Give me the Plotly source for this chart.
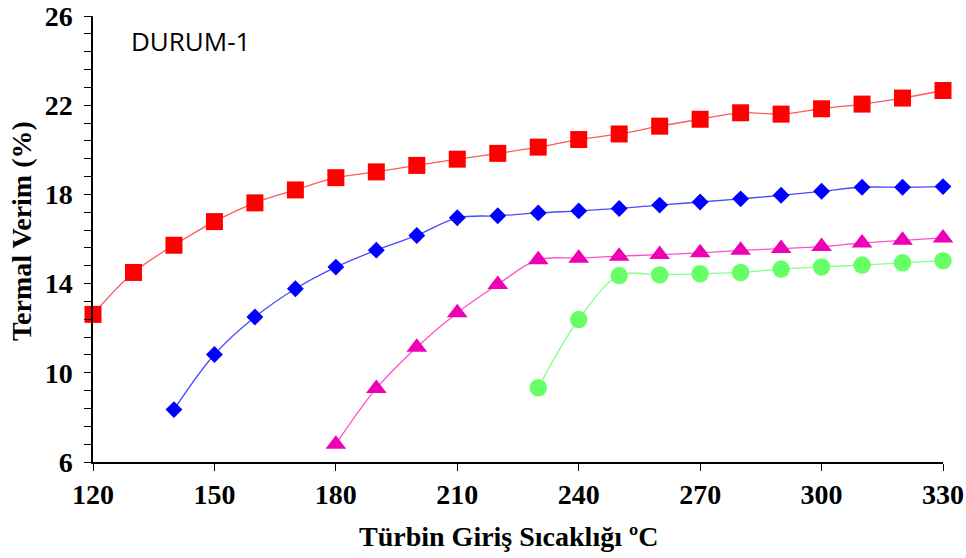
import plotly.graph_objects as go

x_red = [120, 130, 140, 150, 160, 170, 180, 190, 200, 210, 220, 230, 240, 250, 260, 270, 280, 290, 300, 310, 320, 330]
y_red = [12.62, 14.5, 15.72, 16.78, 17.62, 18.2, 18.75, 19.01, 19.3, 19.58, 19.84, 20.12, 20.46, 20.71, 21.06, 21.37, 21.66, 21.6, 21.84, 22.05, 22.32, 22.66]

x_blue = [140, 150, 160, 170, 180, 190, 200, 210, 220, 230, 240, 250, 260, 270, 280, 290, 300, 310, 320, 330]
y_blue = [8.35, 10.82, 12.5, 13.77, 14.74, 15.5, 16.16, 16.95, 17.04, 17.17, 17.26, 17.37, 17.52, 17.66, 17.8, 17.96, 18.14, 18.32, 18.32, 18.35]

x_mag = [180, 190, 200, 210, 220, 230, 240, 250, 260, 270, 280, 290, 300, 310, 320, 330]
y_mag = [6.8, 9.3, 11.15, 12.69, 13.96, 15.07, 15.14, 15.23, 15.3, 15.38, 15.49, 15.57, 15.66, 15.82, 15.94, 16.05]

x_green = [230, 240, 250, 260, 270, 280, 290, 300, 310, 320, 330]
y_green = [9.33, 12.39, 14.36, 14.39, 14.44, 14.5, 14.65, 14.75, 14.83, 14.93, 15.03]

x_ticks = [120, 150, 180, 210, 240, 270, 300, 330]
y_ticks = [6, 10, 14, 18, 22, 26]

series = [
    (x_red, y_red, "square", 17, "#FF0000", "#FF5A5A"),
    (x_blue, y_blue, "diamond", 13, "#0000FF", "#4A4AFF"),
    (x_mag, y_mag, "triangle-up", 18, "#EE00B4", "#FF50CC"),
    (x_green, y_green, "circle", 17.5, "#66FF66", "#88FF88"),
]

fig = go.Figure()
for xs, ys, sym, sz, mc, lc in series:
    fig.add_trace(go.Scatter(
        x=xs, y=ys, mode="lines+markers",
        line=dict(color=lc, width=1.3, shape="spline", smoothing=1.0),
        marker=dict(symbol=sym, size=sz, color=mc, line=dict(width=0)),
        showlegend=False, cliponaxis=False,
    ))

tick_font = dict(family="Liberation Serif", size=28, color="#000000", weight="bold")
fig.update_layout(
    width=966, height=558,
    margin=dict(l=93, r=23, t=16, b=96, autoexpand=False),
    paper_bgcolor="white", plot_bgcolor="white",
    xaxis=dict(
        range=[120, 330], tickvals=x_ticks, ticktext=[str(v) for v in x_ticks],
        showgrid=False, zeroline=False, showline=True, linecolor="#000000", linewidth=1.5,
        ticks="outside", ticklen=7, tickwidth=1.2, tickcolor="#000000",
        tickfont=tick_font, automargin=False,
    ),
    yaxis=dict(
        range=[6, 26], tickvals=y_ticks, ticktext=[str(v) for v in y_ticks],
        showgrid=False, zeroline=False, showline=True, linecolor="#000000", linewidth=1.5,
        ticks="outside", ticklen=7, tickwidth=1.2, tickcolor="#000000",
        minor=dict(dtick=0.8, tick0=6, ticks="outside", ticklen=7, tickwidth=1.2, tickcolor="#000000", showgrid=False),
        tickfont=tick_font, automargin=False, ticklabelstandoff=6,
    ),
    annotations=[
        dict(text="DURUM-1", xref="x", yref="y", x=129, y=24.86, xanchor="left", yanchor="middle",
             showarrow=False, font=dict(family="Open Sans", size=26, color="#000000")),
        dict(text="Türbin Giriş Sıcaklığı ºC", xref="paper", yref="paper", x=0.4894, y=-0.167,
             xanchor="center", yanchor="middle", showarrow=False,
             font=dict(family="Liberation Serif", size=28, color="#000000", weight="bold")),
        dict(text="Termal Verim (%)", xref="paper", yref="paper", x=-0.0835, y=0.518,
             xanchor="center", yanchor="middle", textangle=-90, showarrow=False,
             font=dict(family="Liberation Serif", size=28, color="#000000", weight="bold")),
    ],
)

fig.write_html("out.html")
